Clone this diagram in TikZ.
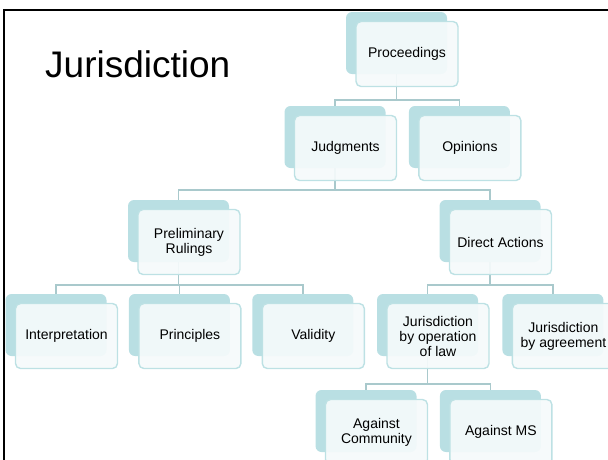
\documentclass[tikz,border=0pt]{standalone}
\usepackage{fontspec}
\setmainfont{Liberation Sans}
\usetikzlibrary{positioning}

\definecolor{backteal}{HTML}{B9DFE3}
\definecolor{frontedge}{HTML}{BDE1E4}
\definecolor{frontfill}{HTML}{F5FAFB}
\definecolor{linkgray}{HTML}{A9C9CC}

\begin{document}
\begin{tikzpicture}[
        x=1pt, y=1pt,
        back_box/.style={rectangle, fill=backteal, rounded corners=6pt,
                         minimum width=101pt, minimum height=62pt, inner sep=0pt},
        front_box/.style={rectangle, draw=frontedge, line width=1.4pt, fill=frontfill,
                          fill opacity=0.93, text opacity=1, rounded corners=5pt,
                          minimum width=102pt, minimum height=65pt, inner sep=0pt, align=center,
                          xshift=10.5pt, yshift=-11pt, font=\fontsize{14}{15}\selectfont},
        link/.style={draw=linkgray, line width=1.8pt},
        frame_line/.style={line width=2pt, black},
        title_text/.style={anchor=base west, inner sep=0pt, font=\fontsize{37}{44}\selectfont}
    ]
    \useasboundingbox (0,0) rectangle (608,-459);
    \clip (0,0) rectangle (608,-459);

    \draw[frame_line] (620,-10) -- (4,-10) -- (4,-470);
    \node[title_text] (title) at (45,-77) {Jurisdiction};

    % back shapes
    \node[back_box] (procB) at (396.5,-43) {};
    \node[back_box] (judgB) at (335,-137) {};
    \node[back_box, right=23pt of judgB] (opinB) {};
    \node[back_box] (prelB) at (178.5,-231) {};
    \node[back_box] (dirB) at (490,-231) {};
    \node[back_box] (interpB) at (56,-325) {};
    \node[back_box, right=22pt of interpB] (princB) {};
    \node[back_box, right=22pt of princB] (validB) {};
    \node[back_box] (opLawB) at (427.5,-325) {};
    \node[back_box, right=24pt of opLawB] (agreeB) {};
    \node[back_box] (agComB) at (366,-421) {};
    \node[back_box, right=23pt of agComB] (agMSB) {};

    % connectors
    \draw[link] (judgB.north) -- ++(0,6) -| (procB.south);
    \draw[link] (opinB.north) -- ++(0,6) -| (procB.south);
    \draw[link] (prelB.north) -- ++(0,10) -| (judgB.south);
    \draw[link] (dirB.north) -- ++(0,10) -| (judgB.south);
    \draw[link] (interpB.north) -- ++(0,9) -| (prelB.south);
    \draw[link] (princB.north) -- ++(0,9) -| (prelB.south);
    \draw[link] (validB.north) -- ++(0,9) -| (prelB.south);
    \draw[link] (opLawB.north) -- ++(0,9) -| (dirB.south);
    \draw[link] (agreeB.north) -- ++(0,9) -| (dirB.south);
    \draw[link] (agComB.north) -- ++(0,6) -| (opLawB.south);
    \draw[link] (agMSB.north) -- ++(0,6) -| (opLawB.south);

    % front shapes with text
    \node[front_box] (proc) at (procB) {Proceedings};
    \node[front_box] (judg) at (judgB) {Judgments};
    \node[front_box] (opin) at (opinB) {Opinions};
    \node[front_box] (prel) at (prelB) {Preliminary\\Rulings};
    \node[front_box] (dir) at (dirB) {Direct Actions};
    \node[front_box] (interp) at (interpB) {Interpretation};
    \node[front_box] (princ) at (princB) {Principles};
    \node[front_box] (valid) at (validB) {Validity};
    \node[front_box] (opLaw) at (opLawB) {Jurisdiction\\by operation\\of law};
    \node[front_box] (agree) at (agreeB) {Jurisdiction\\by agreement};
    \node[front_box] (agCom) at (agComB) {Against\\Community};
    \node[front_box] (agMS) at (agMSB) {Against MS};
\end{tikzpicture}
\end{document}
